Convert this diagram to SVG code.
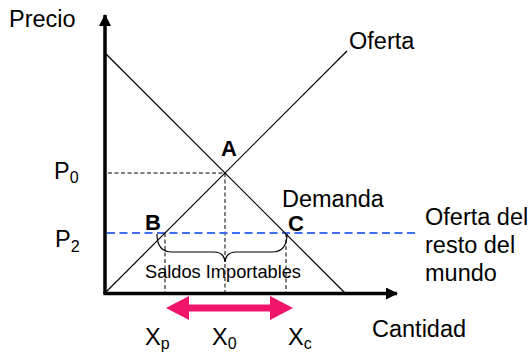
<svg xmlns="http://www.w3.org/2000/svg" width="531" height="355" viewBox="0 0 531 355">
<style>
text{font-family:"Liberation Sans",Arial,sans-serif;fill:#000}
.lbl{font-size:23.5px}
.pt{font-size:22px;font-weight:bold}
.sub{font-size:16px}
.curve{stroke:#000;stroke-width:1.2;fill:none}
.dash{stroke:#000;stroke-width:1;stroke-dasharray:4 2.5;fill:none}
.axis{stroke:#000;stroke-width:3.5;fill:none}
</style>
<defs>
<marker id="ah" viewBox="0 0 12 12" refX="11" refY="6" markerWidth="12" markerHeight="12" markerUnits="userSpaceOnUse" orient="auto">
<path d="M0,0 L12,6 L0,12 Z" fill="#000"/>
</marker>
</defs>
<g id="axes">
<line class="axis" x1="105" y1="294" x2="105" y2="15" marker-end="url(#ah)"/>
<line class="axis" x1="103.5" y1="293.5" x2="397" y2="293.5" marker-end="url(#ah)"/>
<text class="lbl" x="9" y="27">Precio</text>
<text class="lbl" x="372" y="337">Cantidad</text>
</g>
<g id="connectors">
<line class="dash" x1="108" y1="173" x2="225" y2="173"/>
<line class="dash" x1="225" y1="173" x2="225" y2="292"/>
<line class="dash" x1="165" y1="233" x2="165" y2="292"/>
<line class="dash" x1="286" y1="233" x2="286" y2="292"/>
<line x1="107" y1="233" x2="416" y2="233" stroke="#3f6ef0" stroke-width="2" stroke-dasharray="8 4.5"/>
<path d="M157,234 Q157,252 172,252 L214,252 Q224,252 225,262 Q226,252 236,252 L272,252 Q287,252 287,234" class="curve"/>
<polygon points="166,308 189,296 189,304.5 270,304.5 270,296 293,308 270,320 270,311.5 189,311.5 189,320" fill="#f0146a"/>
</g>
<g id="oferta">
<line class="curve" x1="105" y1="293" x2="347" y2="51"/>
<text class="lbl" x="349" y="49">Oferta</text>
</g>
<g id="demanda">
<line class="curve" x1="105" y1="53" x2="345" y2="293"/>
<text class="lbl" x="282" y="207">Demanda</text>
</g>
<g id="resto">
<text class="lbl" x="425" y="225">Oferta del</text>
<text class="lbl" x="425" y="253">resto del</text>
<text class="lbl" x="425" y="281">mundo</text>
</g>
<g id="pointA"><text class="pt" x="221" y="156">A</text></g>
<g id="pointB"><text class="pt" x="145" y="230">B</text></g>
<g id="pointC"><text class="pt" x="288" y="231">C</text></g>
<g id="p0"><text class="lbl" x="54" y="179">P<tspan class="sub" dy="4">0</tspan></text></g>
<g id="p2"><text class="lbl" x="55" y="247">P<tspan class="sub" dy="5">2</tspan></text></g>
<g id="saldos"><text x="145" y="278" font-size="19" textLength="156" lengthAdjust="spacingAndGlyphs">Saldos  Importables</text></g>
<g id="xp"><text class="lbl" x="145" y="345">X<tspan class="sub" dy="4">p</tspan></text></g>
<g id="x0"><text class="lbl" x="212" y="345">X<tspan class="sub" dy="4">0</tspan></text></g>
<g id="xc"><text class="lbl" x="288" y="345">X<tspan class="sub" dy="4">c</tspan></text></g>
</svg>
